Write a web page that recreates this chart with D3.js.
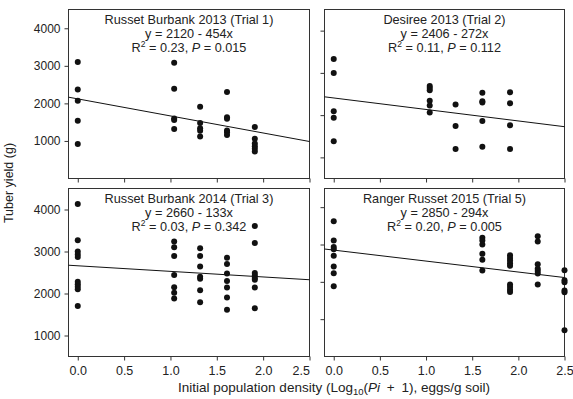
<!DOCTYPE html>
<html><head><meta charset="utf-8">
<script src="https://cdn.jsdelivr.net/npm/d3@7"></script>
<style>
html,body{margin:0;padding:0;background:#fff;}
svg text{font-family:"Liberation Sans",Arial,Helvetica,sans-serif;fill:#222;}
</style></head>
<body>
<svg id="chart" width="573" height="399"></svg>
<script>
// ---- data ----
const titles = ["Russet Burbank 2013 (Trial 1)", "Desiree 2013 (Trial 2)", "Russet Burbank 2014 (Trial 3)", "Ranger Russet 2015 (Trial 5)"];
const intercepts = [2120, 2406, 2660, 2850];
const slopes = [454, 272, 133, 294];
const r2Labels = ["0.23", "0.11", "0.03", "0.20"];
const pLabels = ["0.015", "0.112", "0.342", "0.005"];
const yDomains = [[0, 4500], [500, 4500], [500, 4500], [0, 4500]];
const yTicks = [1000, 2000, 3000, 4000];
const xTicks = [0, 0.5, 1.0, 1.5, 2.0, 2.5];

const trial1Levels = [0, 1.04, 1.32, 1.61, 1.91];
const trial1Yield = [
  [3100, 2370, 2070, 1540, 920],
  [3080, 2390, 1600, 1560, 1320],
  [1910, 1480, 1340, 1270, 1120],
  [2300, 1630, 1590, 1280, 1230, 1160],
  [1370, 1060, 930, 860, 790, 720]
];
const trial2Levels = [0, 1.04, 1.32, 1.61, 1.91];
const trial2Yield = [
  [3330, 3000, 2090, 1940, 1380],
  [2690, 2640, 2590, 2340, 2230, 2060],
  [2250, 1740, 1200],
  [2530, 2330, 2300, 1860, 1250],
  [2540, 2280, 1760, 1200]
];
const trial3Levels = [0, 1.04, 1.32, 1.61, 1.91];
const trial3Yield = [
  [4130, 3270, 3000, 2930, 2870, 2280, 2220, 2160, 2100, 1700],
  [3240, 3100, 2895, 2440, 2150, 2015, 1880],
  [3080, 2890, 2640, 2400, 2350, 2080, 1790],
  [2850, 2700, 2475, 2300, 2140, 1906, 1614],
  [3610, 3200, 2490, 2430, 2370, 2330, 2140, 1650]
];
const trial5Levels = [0, 1.61, 1.91, 2.21, 2.5];
const trial5Yield = [
  [3620, 3110, 2930, 2870, 2700, 2410, 2230, 1880],
  [3180, 3110, 3000, 2750, 2590, 2305],
  [2710, 2640, 2570, 2500, 2430, 1930, 1860, 1790, 1730],
  [3220, 3080, 2470, 2350, 2290, 2220, 1930],
  [2310, 2040, 1990, 1770, 1720, 700]
];
const levelsAll = [trial1Levels, trial2Levels, trial3Levels, trial5Levels];
const yieldAll = [trial1Yield, trial2Yield, trial3Yield, trial5Yield];

// ---- layout ----
const svg = d3.select("#chart");
const xDomain = [-0.1, 2.5];
const cols = [[68.5, 309.5], [324.5, 564.5]];
const rows = [[9.5, 178.5], [188.5, 356.5]];
const ink = "#222";

titles.forEach((title, i) => {
  const c = cols[i % 2], r = rows[Math.floor(i / 2)];
  const x = d3.scaleLinear().domain(xDomain).range(c);
  const y = d3.scaleLinear().domain(yDomains[i]).range([r[1], r[0]]);
  const g = svg.append("g");

  // frame
  g.append("rect").attr("x", c[0]).attr("y", r[0])
    .attr("width", c[1] - c[0]).attr("height", r[1] - r[0])
    .attr("fill", "none").attr("stroke", "#333").attr("stroke-width", 1);

  // y axis
  const yAx = d3.axisLeft(y).tickValues(yTicks).tickSize(4).tickSizeOuter(0)
    .tickFormat(i % 2 === 0 ? d3.format("d") : () => "");
  const ya = g.append("g").attr("transform", `translate(${c[0]},0)`).call(yAx);
  ya.select(".domain").remove();
  ya.selectAll("line").attr("stroke", "#333");
  ya.selectAll("text").attr("font-size", 12).attr("x", -8).attr("fill", ink);

  // x axis
  const xAx = d3.axisBottom(x).tickValues(xTicks).tickSize(4).tickSizeOuter(0)
    .tickFormat(i >= 2 ? d3.format(".1f") : () => "");
  const xa = g.append("g").attr("transform", `translate(0,${r[1]})`).call(xAx);
  xa.select(".domain").remove();
  xa.selectAll("line").attr("stroke", "#333");
  xa.selectAll("text").attr("font-size", 12.5).attr("dy", "0.9em").attr("fill", ink);
  if (i === 2) {
    xa.selectAll("text").filter(d => d === 2.5).attr("text-anchor", "end").attr("dx", 0);
  }

  // regression line
  const f = v => intercepts[i] - slopes[i] * v;
  g.append("line")
    .attr("x1", x(xDomain[0])).attr("y1", y(f(xDomain[0])))
    .attr("x2", x(xDomain[1])).attr("y2", y(f(xDomain[1])))
    .attr("stroke", "#111").attr("stroke-width", 1);

  // points
  const pts = [];
  levelsAll[i].forEach((lv, k) => yieldAll[i][k].forEach(v => pts.push([lv, v])));
  g.selectAll("circle.pt").data(pts).enter().append("circle")
    .attr("cx", d => x(d[0])).attr("cy", d => y(d[1]))
    .attr("r", 3).attr("fill", "#111");

  // titles
  const cx = (c[0] + c[1]) / 2;
  const t = g.append("g").attr("text-anchor", "middle").attr("font-size", 12.7);
  t.append("text").attr("x", cx).attr("y", r[0] + 14).text(title);
  t.append("text").attr("x", cx).attr("y", r[0] + 28)
    .text(`y = ${intercepts[i]} - ${slopes[i]}x`);
  const t3 = t.append("text").attr("x", cx).attr("y", r[0] + 42);
  t3.append("tspan").text("R");
  t3.append("tspan").attr("font-size", 8.5).attr("dy", -5).text("2");
  t3.append("tspan").attr("dy", 5).text(` = ${r2Labels[i]}, `);
  t3.append("tspan").attr("font-style", "italic").text("P");
  t3.append("tspan").text(` = ${pLabels[i]}`);
});

// axis titles
svg.append("text").attr("transform", "translate(13,183) rotate(-90)")
  .attr("text-anchor", "middle").attr("font-size", 12.5).text("Tuber yield (g)");

const xl = svg.append("text").attr("x", 334).attr("y", 392)
  .attr("text-anchor", "middle").attr("font-size", 13.5);
xl.append("tspan").text("Initial population density (Log");
xl.append("tspan").attr("font-size", 9.5).attr("dy", 3).text("10");
xl.append("tspan").attr("dy", -3).text("(");
xl.append("tspan").attr("font-style", "italic").text("Pi");
xl.append("tspan").text("\u2002+\u20021), eggs/g soil)");
</script>
</body></html>
